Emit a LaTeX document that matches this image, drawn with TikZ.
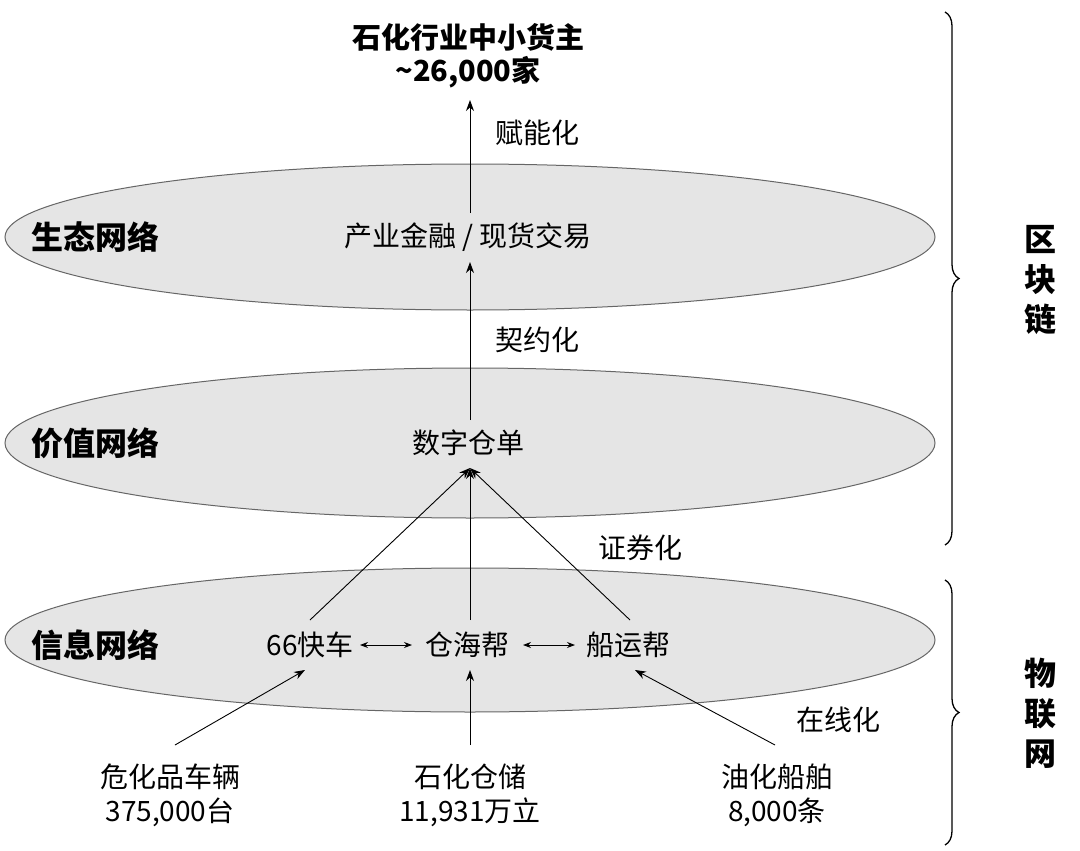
\documentclass[tikz,border=0pt]{standalone}
\usepackage{fontspec}
\setmainfont{Noto Sans CJK SC}
\usetikzlibrary{decorations.pathreplacing,arrows.meta}
\begin{document}
\begin{tikzpicture}[x=1pt,y=-1pt,
  ell/.style={draw=gray!80!black,fill=gray!20,line width=1pt},
  t/.style={font=\fontsize{28}{34}\selectfont,inner sep=0pt},
  b/.style={font=\fontsize{32}{36}\selectfont\bfseries,inner sep=0pt},
  h/.style={font=\fontsize{29}{34}\selectfont\bfseries,inner sep=0pt},
  arr/.style={-{Stealth[length=11pt,width=8pt]},line width=0.9pt},
  darr/.style={{Stealth[length=8pt,width=6pt]}-{Stealth[length=8pt,width=6pt]},line width=0.9pt},
  br/.style={decorate,decoration={brace,amplitude=14pt},line width=1.3pt}]
\useasboundingbox (0,0) rectangle (1080,851);
\fill[white] (0,0) rectangle (1080,851);
\draw[ell] (470,237) ellipse [x radius=465,y radius=73];
\draw[ell] (470,443) ellipse [x radius=465,y radius=75];
\draw[ell] (470,640) ellipse [x radius=465,y radius=72];
\node[b] (l1) at (95,237) {生态网络};
\node[b] (l2) at (95,443) {价值网络};
\node[b] (l3) at (95,645) {信息网络};
\node[h] (top) at (468,37) {石化行业中小货主};
\node[h] (top2) at (468,72) {\textasciitilde26,000家};
\node[t] (fin) at (468,237) {产业金融 / 现货交易};
\node[t] (wr) at (468,443) {数字仓单};
\node[t] (k66) at (310,645) {66快车};
\node[t] (chb) at (467,645) {仓海帮};
\node[t] (cyb) at (628,645) {船运帮};
\node[t,align=center] (veh) at (170,795) {危化品车辆\\375,000台};
\node[t,align=center] (sto) at (470,795) {石化仓储\\11,931万立};
\node[t,align=center] (shp) at (777,795) {油化船舶\\8,000条};
\node[t] (e1) at (537,133) {赋能化};
\node[t] (e2) at (537,340) {契约化};
\node[t] (e3) at (640,548) {证券化};
\node[t] (e4) at (838,720) {在线化};
\coordinate (wrb) at (470,468);
\draw[arr] (470,213) -- (470,100);
\draw[arr] (470,420) -- (470,262);
\draw[arr] (310,620) -- (wrb);
\draw[arr] (470,620) -- (wrb);
\draw[arr] (630,620) -- (wrb);
\draw[darr] (360,645) -- (412,645);
\draw[darr] (523,645) -- (575,645);
\draw[arr] (175,745) -- (305,670);
\draw[arr] (470,745) -- (470,670);
\draw[arr] (775,745) -- (635,670);
\draw[br] (945,12) -- (945,545);
\draw[br] (945,580) -- (945,845);
\node[b,align=center] (bc) at (1040,280) {区\\[4pt]块\\[4pt]链};
\node[b,align=center] (iot) at (1040,713) {物\\[4pt]联\\[4pt]网};
\end{tikzpicture}
\end{document}
